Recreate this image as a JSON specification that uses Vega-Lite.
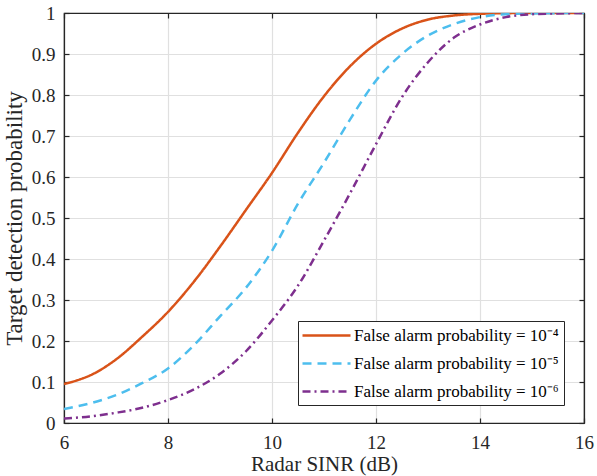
{
  "$schema": "https://vega.github.io/schema/vega-lite/v6.json",
  "width": 520,
  "height": 410,
  "autosize": "none",
  "padding": {"left": 64, "top": 13, "right": 13, "bottom": 53},
  "background": "white",
  "config": {
    "font": "Liberation Serif",
    "view": {"stroke": "#262626", "strokeWidth": 1.2},
    "axis": {
      "domainColor": "#262626",
      "domainWidth": 1.2,
      "tickColor": "#262626",
      "tickWidth": 1.2,
      "tickSize": -5,
      "labelFont": "Liberation Serif",
      "labelFontSize": 19,
      "labelColor": "#262626",
      "labelFlush": false,
      "titleFont": "Liberation Serif",
      "titleFontSize": 21,
      "titleFontWeight": "normal",
      "titleColor": "#262626",
      "gridColor": "#e0e0e0",
      "gridWidth": 1.2
    }
  },
  "datasets": {
    "curves": [
      {"snr": 6, "pd": 0.095, "series": "False alarm probability = 10⁻⁴"},
      {"snr": 6.25, "pd": 0.104, "series": "False alarm probability = 10⁻⁴"},
      {"snr": 6.5, "pd": 0.116, "series": "False alarm probability = 10⁻⁴"},
      {"snr": 7, "pd": 0.155, "series": "False alarm probability = 10⁻⁴"},
      {"snr": 7.5, "pd": 0.21, "series": "False alarm probability = 10⁻⁴"},
      {"snr": 8, "pd": 0.271, "series": "False alarm probability = 10⁻⁴"},
      {"snr": 8.5, "pd": 0.345, "series": "False alarm probability = 10⁻⁴"},
      {"snr": 9, "pd": 0.43, "series": "False alarm probability = 10⁻⁴"},
      {"snr": 9.5, "pd": 0.52, "series": "False alarm probability = 10⁻⁴"},
      {"snr": 10, "pd": 0.61, "series": "False alarm probability = 10⁻⁴"},
      {"snr": 10.5, "pd": 0.708, "series": "False alarm probability = 10⁻⁴"},
      {"snr": 11, "pd": 0.797, "series": "False alarm probability = 10⁻⁴"},
      {"snr": 11.5, "pd": 0.87, "series": "False alarm probability = 10⁻⁴"},
      {"snr": 12, "pd": 0.925, "series": "False alarm probability = 10⁻⁴"},
      {"snr": 12.5, "pd": 0.962, "series": "False alarm probability = 10⁻⁴"},
      {"snr": 13, "pd": 0.984, "series": "False alarm probability = 10⁻⁴"},
      {"snr": 13.5, "pd": 0.994, "series": "False alarm probability = 10⁻⁴"},
      {"snr": 14, "pd": 0.998, "series": "False alarm probability = 10⁻⁴"},
      {"snr": 14.5, "pd": 0.9995, "series": "False alarm probability = 10⁻⁴"},
      {"snr": 15, "pd": 1, "series": "False alarm probability = 10⁻⁴"},
      {"snr": 16, "pd": 1, "series": "False alarm probability = 10⁻⁴"},
      {"snr": 6, "pd": 0.034, "series": "False alarm probability = 10⁻⁵"},
      {"snr": 6.5, "pd": 0.048, "series": "False alarm probability = 10⁻⁵"},
      {"snr": 7, "pd": 0.068, "series": "False alarm probability = 10⁻⁵"},
      {"snr": 7.5, "pd": 0.097, "series": "False alarm probability = 10⁻⁵"},
      {"snr": 8, "pd": 0.133, "series": "False alarm probability = 10⁻⁵"},
      {"snr": 8.5, "pd": 0.19, "series": "False alarm probability = 10⁻⁵"},
      {"snr": 9, "pd": 0.26, "series": "False alarm probability = 10⁻⁵"},
      {"snr": 9.5, "pd": 0.33, "series": "False alarm probability = 10⁻⁵"},
      {"snr": 10, "pd": 0.42, "series": "False alarm probability = 10⁻⁵"},
      {"snr": 10.5, "pd": 0.535, "series": "False alarm probability = 10⁻⁵"},
      {"snr": 11, "pd": 0.635, "series": "False alarm probability = 10⁻⁵"},
      {"snr": 11.5, "pd": 0.74, "series": "False alarm probability = 10⁻⁵"},
      {"snr": 12, "pd": 0.835, "series": "False alarm probability = 10⁻⁵"},
      {"snr": 12.5, "pd": 0.9, "series": "False alarm probability = 10⁻⁵"},
      {"snr": 13, "pd": 0.945, "series": "False alarm probability = 10⁻⁵"},
      {"snr": 13.5, "pd": 0.973, "series": "False alarm probability = 10⁻⁵"},
      {"snr": 14, "pd": 0.99, "series": "False alarm probability = 10⁻⁵"},
      {"snr": 14.5, "pd": 0.997, "series": "False alarm probability = 10⁻⁵"},
      {"snr": 15, "pd": 0.999, "series": "False alarm probability = 10⁻⁵"},
      {"snr": 16, "pd": 1, "series": "False alarm probability = 10⁻⁵"},
      {"snr": 6, "pd": 0.011, "series": "False alarm probability = 10⁻⁶"},
      {"snr": 6.5, "pd": 0.016, "series": "False alarm probability = 10⁻⁶"},
      {"snr": 7, "pd": 0.025, "series": "False alarm probability = 10⁻⁶"},
      {"snr": 7.5, "pd": 0.037, "series": "False alarm probability = 10⁻⁶"},
      {"snr": 8, "pd": 0.056, "series": "False alarm probability = 10⁻⁶"},
      {"snr": 8.5, "pd": 0.082, "series": "False alarm probability = 10⁻⁶"},
      {"snr": 9, "pd": 0.12, "series": "False alarm probability = 10⁻⁶"},
      {"snr": 9.5, "pd": 0.175, "series": "False alarm probability = 10⁻⁶"},
      {"snr": 10, "pd": 0.25, "series": "False alarm probability = 10⁻⁶"},
      {"snr": 10.5, "pd": 0.335, "series": "False alarm probability = 10⁻⁶"},
      {"snr": 11, "pd": 0.445, "series": "False alarm probability = 10⁻⁶"},
      {"snr": 11.5, "pd": 0.56, "series": "False alarm probability = 10⁻⁶"},
      {"snr": 12, "pd": 0.68, "series": "False alarm probability = 10⁻⁶"},
      {"snr": 12.5, "pd": 0.795, "series": "False alarm probability = 10⁻⁶"},
      {"snr": 13, "pd": 0.88, "series": "False alarm probability = 10⁻⁶"},
      {"snr": 13.5, "pd": 0.94, "series": "False alarm probability = 10⁻⁶"},
      {"snr": 14, "pd": 0.972, "series": "False alarm probability = 10⁻⁶"},
      {"snr": 14.5, "pd": 0.99, "series": "False alarm probability = 10⁻⁶"},
      {"snr": 15, "pd": 0.997, "series": "False alarm probability = 10⁻⁶"},
      {"snr": 15.5, "pd": 0.999, "series": "False alarm probability = 10⁻⁶"},
      {"snr": 16, "pd": 1, "series": "False alarm probability = 10⁻⁶"}
    ]
  },
  "data": {"name": "curves"},
  "layer": [
    {
      "mark": {"type": "line", "strokeWidth": 2.5, "interpolate": "monotone", "clip": true},
      "encoding": {
        "x": {
          "field": "snr", "type": "quantitative",
          "scale": {"domain": [6, 16], "nice": false, "zero": false},
          "axis": {"orient": "bottom", "values": [6, 8, 10, 12, 14, 16], "grid": true, "title": "Radar SINR (dB)", "labelBaseline": "alphabetic", "labelPadding": 30, "titleBaseline": "alphabetic", "titleY": 47}
        },
        "y": {
          "field": "pd", "type": "quantitative",
          "scale": {"domain": [0, 1], "nice": false},
          "axis": {"orient": "left", "values": [0, 0.1, 0.2, 0.3, 0.4, 0.5, 0.6, 0.7, 0.8, 0.9, 1], "grid": true, "title": "Target detection probability", "titleFontSize": 23, "labelPadding": 14, "titleBaseline": "alphabetic", "titleX": -43,
            "labelExpr": "datum.value == 0 ? '0' : datum.value == 1 ? '1' : format(datum.value, '.1f')"}
        },
        "color": {
          "field": "series", "type": "nominal",
          "scale": {"domain": ["False alarm probability = 10⁻⁴", "False alarm probability = 10⁻⁵", "False alarm probability = 10⁻⁶"], "range": ["#D95319", "#4DBEEE", "#7E2F8E"]},
          "legend": {
            "title": null, "orient": "none", "legendX": 234, "legendY": 308,
            "fillColor": "white", "strokeColor": "#262626", "padding": 5,
            "symbolType": "M-3,0H3", "symbolSize": 256, "symbolStrokeWidth": 2.5, "symbolOffset": 14,
            "labelFontSize": 17, "labelColor": "#000000", "labelFont": "Liberation Serif", "labelOffset": 18, "rowPadding": 10, "labelLimit": 400
          }
        },
        "strokeDash": {
          "field": "series", "type": "nominal",
          "scale": {"domain": ["False alarm probability = 10⁻⁴", "False alarm probability = 10⁻⁵", "False alarm probability = 10⁻⁶"], "range": [[1, 0], [9, 6], [8, 4, 2, 4]]},
          "legend": {
            "title": null, "orient": "none", "legendX": 234, "legendY": 308,
            "fillColor": "white", "strokeColor": "#262626", "padding": 5,
            "symbolType": "M-3,0H3", "symbolSize": 256, "symbolStrokeWidth": 2.5, "symbolOffset": 14,
            "labelFontSize": 17, "labelColor": "#000000", "labelFont": "Liberation Serif", "labelOffset": 18, "rowPadding": 10, "labelLimit": 400
          }
        }
      }
    },
    {
      "mark": {"type": "line", "opacity": 0},
      "encoding": {
        "x": {
          "field": "snr", "type": "quantitative",
          "axis": {"orient": "top", "values": [6, 8, 10, 12, 14, 16], "labels": false, "title": null, "grid": false}
        },
        "y": {
          "field": "pd", "type": "quantitative",
          "axis": {"orient": "right", "values": [0, 0.1, 0.2, 0.3, 0.4, 0.5, 0.6, 0.7, 0.8, 0.9, 1], "labels": false, "title": null, "grid": false}
        }
      }
    }
  ],
  "resolve": {"axis": {"x": "independent", "y": "independent"}}
}
